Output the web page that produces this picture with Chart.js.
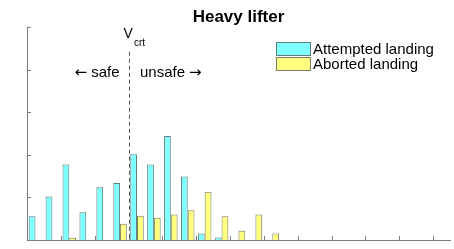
<!DOCTYPE html>
<html>
<head>
<meta charset="utf-8">
<script src="https://cdn.jsdelivr.net/npm/chart.js@4"></script>
<style>
  html, body { margin: 0; padding: 0; background: #fff; }
</style>
</head>
<body>
<canvas id="histchart" width="454" height="249"></canvas>
<script>
// speed bins (25 of them), only every other bin edge gets a tick
const bins = ["1","2","3","4","5","6","7","8","9","10","11","12","13",
              "14","15","16","17","18","19","20","21","22","23","24","25"];
const attempted = [0.56, 1.02, 1.77, 0.65, 1.24, 1.34, 2.01, 1.77, 2.44, 1.49, 0.15, 0.06, 0,
                   0, 0, 0, 0, 0, 0, 0, 0, 0, 0, 0, 0];
const aborted = [0, 0, 0.05, 0, 0, 0.38, 0.57, 0.52, 0.60, 0.70, 1.13, 0.56, 0.22,
                 0.60, 0.15, 0, 0, 0, 0, 0, 0, 0, 0, 0, 0];
const yTicks = [0, 1, 2, 3, 4, 5];
const vCrit = 5.5;      // bin edge where V_crt sits
const vCritTop = 4.42;  // top of the dashed line (y units)

const AXIS = "#7f7f7f";
const FONT = "'Liberation Sans', Arial, sans-serif";
const ARROW_FONT = "15px 'DejaVu Sans', sans-serif";

const annotate = {
    id: 'annotate',
    afterDatasetsDraw(chart) {
        const ctx = chart.ctx;
        const area = chart.chartArea;
        const x = chart.scales.x;
        const y = chart.scales.y;
        ctx.save();

        // inward tick marks
        ctx.strokeStyle = AXIS;
        ctx.lineWidth = 1;
        ctx.beginPath();
        for (let k = 0; k <= bins.length; k += 2) {
            const px = Math.round(x.getPixelForValue(k - 0.5)) + 0.5;
            ctx.moveTo(px, area.bottom);
            ctx.lineTo(px, area.bottom - 4);
        }
        yTicks.forEach(v => {
            const py = Math.round(y.getPixelForValue(v)) + 0.5;
            ctx.moveTo(area.left, py);
            ctx.lineTo(area.left + 4, py);
        });
        ctx.stroke();

        // V_crt dashed line
        const xv = Math.round(x.getPixelForValue(vCrit)) + 0.5;
        ctx.strokeStyle = "#555";
        ctx.setLineDash([4, 3]);
        ctx.beginPath();
        ctx.moveTo(xv, y.getPixelForValue(vCritTop));
        ctx.lineTo(xv, area.bottom);
        ctx.stroke();
        ctx.setLineDash([]);

        ctx.fillStyle = "#000";
        ctx.textBaseline = "alphabetic";
        ctx.textAlign = "left";
        ctx.font = "14px " + FONT;
        ctx.fillText("V", xv - 6, 38);
        ctx.font = "10px " + FONT;
        ctx.fillText("crt", xv + 4.5, 46);

        // safe / unsafe with arrows
        ctx.textBaseline = "middle";
        ctx.font = "15px " + FONT;
        ctx.textAlign = "right";
        ctx.fillText("safe", xv - 10, 72.5);
        const wSafe = ctx.measureText("safe").width;
        ctx.textAlign = "left";
        ctx.fillText("unsafe", xv + 10.5, 72.5);
        const wUnsafe = ctx.measureText("unsafe").width;
        ctx.font = ARROW_FONT;
        ctx.textAlign = "right";
        ctx.fillText("\u2190", xv - 10 - wSafe - 4, 73);
        ctx.textAlign = "left";
        ctx.fillText("\u2192", xv + 10.5 + wUnsafe + 4, 73);

        // title
        ctx.font = "bold 17px " + FONT;
        ctx.textAlign = "center";
        ctx.fillText("Heavy lifter", (area.left + area.right) / 2, 17);

        // legend
        ctx.font = "15px " + FONT;
        ctx.textAlign = "left";
        chart.data.datasets.forEach((ds, i) => {
            const top = 42 + i * 15;
            ctx.fillStyle = ds.backgroundColor;
            ctx.fillRect(276, top, 35, 14);
            ctx.strokeStyle = ds.borderColor;
            ctx.strokeRect(276.5, top + 0.5, 34, 13);
            ctx.fillStyle = "#000";
            ctx.fillText(ds.label, 313, top + 7.5);
        });

        ctx.restore();
    }
};

const CHART = document.getElementById("histchart");

let histchart = new Chart(CHART, {
    type: 'bar',
    data: {
        labels: bins,
        datasets: [{
            label: "Attempted landing",
            data: attempted,
            backgroundColor: "rgb(128, 255, 255)",
            borderColor: "#5f7f7f",
            borderWidth: 1,
            borderSkipped: 'start',
            categoryPercentage: 0.8,
            barPercentage: 1.0
        }, {
            label: "Aborted landing",
            data: aborted,
            backgroundColor: "rgb(255, 255, 128)",
            borderColor: "#7f7f5f",
            borderWidth: 1,
            borderSkipped: 'start',
            categoryPercentage: 0.8,
            barPercentage: 1.0
        }]
    },
    options: {
        responsive: false,
        animation: false,
        layout: { padding: { left: 27, top: 27, right: 4, bottom: 9 } },
        plugins: {
            legend: { display: false },
            title: { display: false },
            tooltip: { enabled: false }
        },
        scales: {
            x: {
                offset: true,
                grid: { display: false, drawTicks: false },
                ticks: { display: false },
                border: { display: true, color: AXIS }
            },
            y: {
                min: 0,
                max: 5,
                ticks: { display: false, stepSize: 1 },
                grid: { display: false, drawTicks: false },
                border: { display: true, color: AXIS }
            }
        }
    },
    plugins: [annotate]
});
</script>
</body>
</html>
